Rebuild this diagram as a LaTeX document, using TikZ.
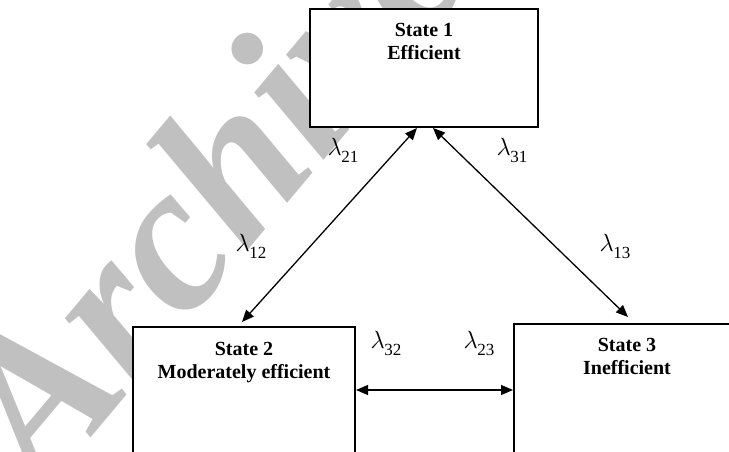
\documentclass[tikz,border=0pt]{standalone}
\usepackage{fontspec}
\setmainfont{Liberation Serif}
\usetikzlibrary{arrows.meta,calc}
\definecolor{wmgray}{RGB}{192,192,192}
\tikzset{
  box/.style={draw=black, line width=2pt, fill=white, inner sep=0pt},
  title/.style={anchor=north, align=center, font=\fontsize{20}{23.5}\selectfont\bfseries, inner sep=0pt},
  link/.style={line width=1.3pt, {Triangle[length=12pt,width=10pt]}-{Triangle[length=12pt,width=10pt]}},
  rate/.style={inner sep=0pt, font=\fontsize{23}{26}\selectfont},
  wm/.style={text=wmgray, font=\fontsize{210}{210}\selectfont\bfseries\itshape, inner sep=0pt}
}
\newcommand{\rt}[1]{$\lambda$\kern-0.5pt\raisebox{-7pt}{\fontsize{17}{17}\selectfont #1}}
\begin{document}
\begin{tikzpicture}[x=1pt,y=-1pt]
\useasboundingbox (0,0) rectangle (729,452);
\begin{scope}
\clip (0,0) rectangle (729,452);
\node[wm, anchor=base west, rotate=50] (wmark) at (43,495) {Archive};
\node[box, minimum width=228pt, minimum height=118pt] (s1) at (424,68) {};
\node[box, minimum width=222pt, minimum height=150pt] (s2) at (244,402) {};
\node[box, minimum width=222pt, minimum height=150pt] (s3) at (625,399) {};
\end{scope}
\node[title] (t1) at (424,23) {State 1\\Efficient};
\node[title] (t2) at (244,342) {State 2\\Moderately efficient};
\node[title] (t3) at (627,338) {State 3\\Inefficient};
\coordinate (hy) at (0,390);
\draw[link] ([xshift=-7pt]s1.south) -- ([xshift=-2pt,yshift=4pt]s2.north);
\draw[link] ([xshift=9pt]s1.south) -- ([xshift=3pt,yshift=6pt]s3.north);
\draw[link] (s2.east |- hy) -- (s3.west |- hy);
\node[rate] (l21) at (343,150) {\rt{21}};
\node[rate] (l31) at (512,150) {\rt{31}};
\node[rate] (l12) at (251,246) {\rt{12}};
\node[rate] (l13) at (615,246) {\rt{13}};
\node[rate] (l32) at (386,343) {\rt{32}};
\node[rate] (l23) at (479,343) {\rt{23}};
\end{tikzpicture}
\end{document}
